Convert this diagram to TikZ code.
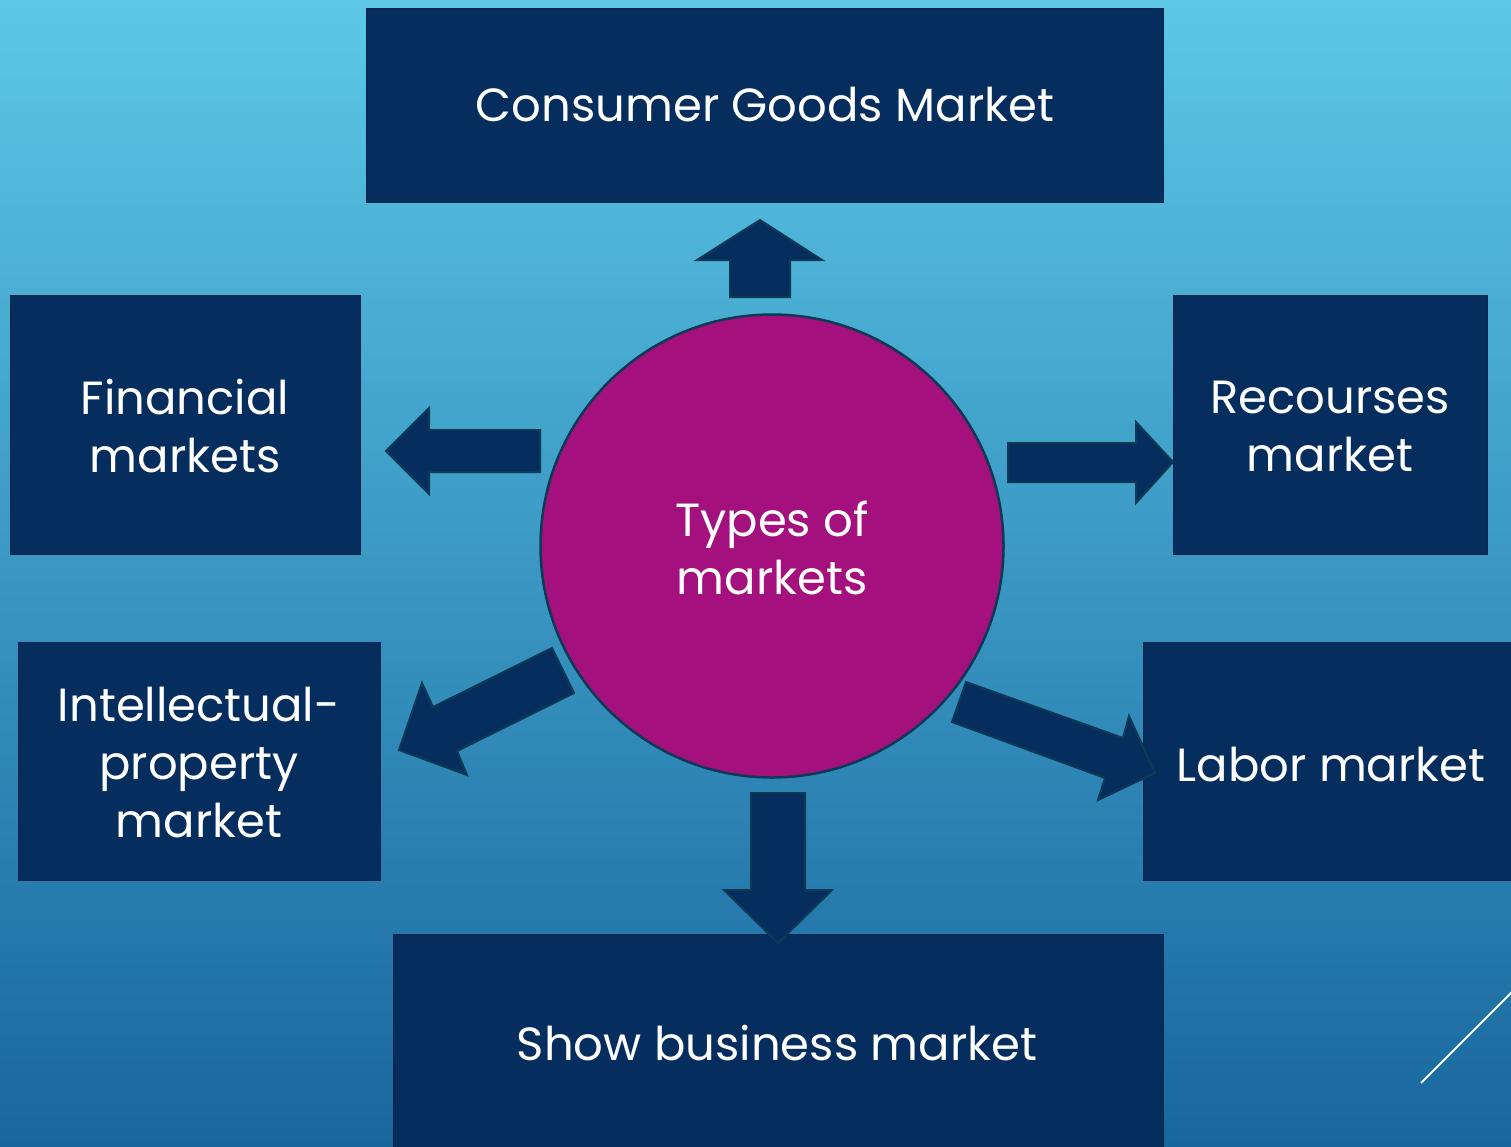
\documentclass[tikz,border=0pt]{standalone}
\usepackage{fontspec}
\setmainfont{Poppins}
\definecolor{navy}{RGB}{5,46,94}
\definecolor{edge}{RGB}{12,58,84}
\definecolor{magenta}{RGB}{164,16,125}
\definecolor{bgtop}{RGB}{92,200,230}
\definecolor{bgbot}{RGB}{24,102,158}
\begin{document}
\begin{tikzpicture}[x=1pt,y=-1pt,
  box/.style={fill=navy,draw=navy!80!black,line width=1pt},
  blockarrow/.style={fill=navy,draw=edge,line width=2pt,line join=miter},
  lbl/.style={text=white,align=center,font=\fontsize{46.5}{58}\selectfont}]
\useasboundingbox (0,0) rectangle (1511,1146);
\clip (0,0) rectangle (1511,1146);
\shade[top color=bgtop,bottom color=bgbot] (0,0) rectangle (1511,1146);
% boxes
\draw[box] (366,8) rectangle (1163,202);
\node[lbl] (cg) at (765,105) {Consumer Goods Market};
\draw[box] (10,295) rectangle (360,554);
\node[lbl] (fin) at (185,426) {Financial\\markets};
\draw[box] (1173,295) rectangle (1487,554);
\node[lbl] (rec) at (1330,426) {Recourses\\market};
\draw[box] (18,642) rectangle (380,880);
\node[lbl] (ip) at (199,762) {Intellectual-\\property\\market};
\draw[box] (1143,642) rectangle (1530,880);
\node[lbl] (lab) at (1331,764) {Labor market};
\draw[box] (393,934) rectangle (1163,1160);
\node[lbl] (sb) at (777,1043) {Show business market};
% arrows
\draw[blockarrow] (730,297) -- (730,260) -- (697,260) -- (760,220) -- (822,260) -- (790,260) -- (790,297) -- cycle;
\draw[blockarrow] (540,430) -- (429,430) -- (429,408) -- (386,451) -- (429,494) -- (429,472) -- (540,472) -- cycle;
\draw[blockarrow] (1008,443) -- (1136,443) -- (1136,422) -- (1173,462) -- (1136,503) -- (1136,482) -- (1008,482) -- cycle;
\draw[blockarrow] (751,793) -- (805,793) -- (805,890) -- (832,890) -- (778,943) -- (724,890) -- (751,890) -- cycle;
\draw[blockarrow] (552,648) -- (574,693) -- (457,751) -- (467,775) -- (399,750) -- (422,683) -- (433,707) -- cycle;
\draw[blockarrow] (966,682) -- (1123,738) -- (1129,716) -- (1155,773) -- (1098,800) -- (1105,778) -- (952,722) -- cycle;
% centre
\node[circle,fill=magenta,draw=edge,line width=2.5pt,minimum size=463pt,inner sep=0pt] (c) at (772,546) {};
\node[lbl] (ct) at (772,548) {Types of\\markets};
% corner line
\coordinate (l1) at (1421,1083);
\coordinate (l2) at (1530,974);
\draw[white,line width=2pt] (l1) -- (l2);
\end{tikzpicture}
\end{document}
